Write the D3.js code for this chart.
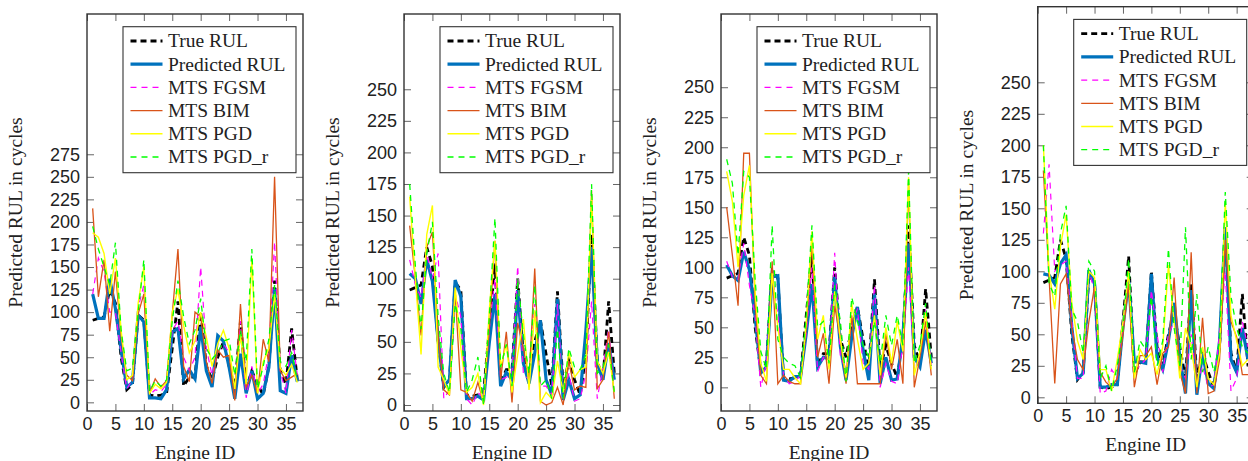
<!DOCTYPE html>
<html>
<head>
<meta charset="utf-8">
<script src="https://cdn.jsdelivr.net/npm/d3@7/dist/d3.min.js"></script>
<style>
  body { margin: 0; background: #fff; }
  svg { display: block; font-family: "Liberation Serif", "Times New Roman", serif; }
</style>
</head>
<body>
<svg width="1248" height="461"></svg>
<script>
// ---- data ----
var engineIds = [1,2,3,4,5,6,7,8,9,10,11,12,13,14,15,16,17,18,19,20,21,22,23,24,25,26,27,28,29,30,31,32,33,34,35,36,37];
var xTicks = [0, 5, 10, 15, 20, 25, 30, 35];
var yTicksA = [0, 25, 50, 75, 100, 125, 150, 175, 200, 225, 250, 275];
var yTicksB = [0, 25, 50, 75, 100, 125, 150, 175, 200, 225, 250];
var seriesNames = ["True RUL", "Predicted RUL", "MTS FGSM", "MTS BIM", "MTS PGD", "MTS PGD_r"];

var trueRul = [91, 93, 95, 125, 110, 50, 14, 20, 97, 91, 8, 7, 8, 10, 60, 112, 18, 28, 28, 100,
               40, 25, 50, 67, 40, 15, 90, 15, 35, 20, 8, 40, 135, 35, 20, 82, 25];

// panel 1
var pred1 = [120, 93, 93, 137, 104, 58, 17, 22, 97, 89, 5, 5, 4, 14, 78, 82, 26, 36, 26, 84,
             35, 17, 74, 68, 39, 4, 54, 10, 35, 4, 10, 39, 126, 13, 10, 52, 23];
var fgsm1 = [120, 160, 145, 100, 100, 55, 15, 25, 105, 130, 8, 14, 12, 20, 80, 90, 50, 35, 50, 150,
             60, 30, 55, 65, 55, 15, 90, 5, 40, 10, 20, 55, 178, 35, 10, 80, 30];
var bim1 = [215, 117, 158, 79, 145, 73, 30, 24, 98, 120, 10, 26, 17, 24, 98, 170, 40, 23, 100, 95,
            45, 21, 58, 50, 52, 2, 109, 17, 30, 10, 70, 45, 250, 35, 24, 28, 32];
var pgd1 = [188, 183, 165, 120, 160, 80, 25, 30, 110, 150, 10, 20, 15, 22, 100, 125, 85, 55, 68, 100,
            72, 40, 65, 80, 60, 15, 75, 20, 160, 10, 45, 60, 120, 38, 30, 42, 22];
var pgdr1 = [195, 170, 150, 130, 177, 80, 35, 38, 100, 158, 12, 24, 18, 25, 90, 135, 95, 65, 80, 115,
             60, 48, 55, 68, 70, 30, 80, 45, 170, 15, 40, 70, 130, 45, 40, 55, 25];

// panel 2
var pred2 = [104, 100, 80, 115, 98, 51, 15, 20, 99, 86, 5, 5, 7, 4, 49, 88, 15, 26, 20, 91,
             33, 17, 41, 67, 20, 8, 84, 4, 20, 5, 8, 59, 125, 33, 20, 49, 20];
var fgsm2 = [115, 95, 85, 120, 100, 120, 5, 12, 88, 70, 5, 0, 10, 5, 60, 100, 20, 22, 25, 110,
             25, 20, 80, 15, 15, 8, 80, 5, 25, 3, 5, 25, 82, 5, 30, 60, 10];
var bim2 = [142, 100, 55, 125, 137, 55, 12, 8, 90, 12, 10, 3, 18, 2, 60, 130, 20, 58, 2, 65,
            45, 20, 108, 3, 0, 2, 14, 0, 35, 12, 15, 14, 170, 13, 20, 58, 5];
var pgd2 = [165, 100, 40, 135, 158, 30, 20, 8, 93, 45, 10, 14, 25, 0, 75, 130, 30, 48, 10, 40,
            68, 12, 75, 2, 10, 5, 35, 10, 42, 22, 28, 30, 165, 35, 25, 42, 10];
var pgdr2 = [175, 110, 60, 120, 145, 70, 25, 10, 80, 60, 10, 20, 38, 0, 70, 148, 30, 48, 15, 100,
             55, 25, 95, 15, 20, 5, 60, 5, 45, 30, 28, 40, 175, 25, 30, 48, 10];

// panel 3
var pred3 = [102, 93, 89, 113, 98, 59, 12, 17, 92, 93, 6, 5, 9, 9, 45, 86, 17, 25, 24, 92,
             34, 6, 42, 67, 31, 6, 78, 3, 25, 6, 7, 42, 120, 25, 17, 48, 20];
var fgsm3 = [105, 92, 90, 120, 85, 60, 0, 20, 95, 60, 10, 3, 5, 10, 45, 100, 13, 25, 20, 112,
             25, 15, 55, 65, 20, 15, 85, 0, 20, 5, 3, 35, 100, 15, 25, 65, 18];
var bim3 = [150, 110, 68, 195, 195, 70, 10, 3, 105, 3, 10, 5, 3, 3, 50, 120, 25, 45, 3, 68,
            40, 3, 60, 3, 3, 3, 3, 3, 45, 15, 40, 3, 170, 0, 25, 55, 10];
var pgd3 = [180, 155, 100, 160, 185, 80, 20, 5, 95, 50, 15, 15, 8, 3, 55, 130, 40, 60, 15, 80,
            40, 8, 70, 40, 15, 20, 60, 10, 50, 20, 55, 30, 175, 10, 30, 62, 15];
var pgdr3 = [190, 170, 110, 180, 175, 90, 30, 15, 135, 40, 25, 20, 18, 8, 60, 135, 50, 55, 20, 85,
             55, 5, 75, 55, 35, 25, 55, 20, 60, 35, 60, 35, 180, 20, 35, 70, 18];

// panel 4
var pred4 = [98, 97, 90, 106, 113, 56, 15, 19, 101, 90, 8, 8, 10, 10, 56, 93, 28, 28, 27, 98,
             32, 22, 45, 75, 32, 3, 85, 2, 35, 11, 7, 45, 135, 30, 20, 55, 30];
var fgsm4 = [130, 185, 100, 105, 108, 60, 15, 15, 100, 85, 3, 5, 22, 15, 55, 90, 20, 25, 30, 85,
             50, 20, 50, 60, 25, 15, 50, 10, 25, 8, 10, 50, 100, 5, 15, 60, 40];
var bim4 = [180, 95, 11, 90, 98, 55, 30, 22, 60, 88, 20, 12, 8, 15, 50, 90, 8, 33, 33, 40,
            10, 35, 40, 95, 20, 3, 115, 3, 63, 3, 5, 30, 125, 60, 48, 18, 18];
var pgd4 = [200, 100, 70, 120, 145, 75, 45, 30, 100, 95, 22, 22, 5, 30, 60, 100, 15, 38, 30, 35,
            18, 40, 105, 60, 15, 55, 40, 8, 40, 15, 10, 35, 155, 65, 45, 25, 30];
var pgdr4 = [200, 90, 80, 130, 152, 70, 60, 35, 108, 100, 15, 25, 5, 25, 55, 110, 20, 45, 38, 80,
             25, 45, 118, 55, 25, 135, 30, 82, 20, 40, 20, 45, 163, 80, 55, 40, 35];

// ---- layout / style ----
var styles = [
    {color: "#000000", width: 2.8, dash: "6,4"},
    {color: "#0072BD", width: 3.2, dash: null},
    {color: "#FF00FF", width: 1.2, dash: "6,5"},
    {color: "#D95319", width: 1.3, dash: null},
    {color: "#FFFF00", width: 1.4, dash: null},
    {color: "#00FF00", width: 1.3, dash: "6,5"}
];

var panels = [
    {left: 87,    top: 14,  bottom: 411,   yDom: [-9.6, 430.5], yTicks: yTicksA, series: [trueRul, pred1, fgsm1, bim1, pgd1, pgdr1]},
    {left: 404,   top: 14,  bottom: 411,   yDom: [-4.75, 309.6], yTicks: yTicksB, series: [trueRul, pred2, fgsm2, bim2, pgd2, pgdr2]},
    {left: 721,   top: 14,  bottom: 411,   yDom: [-19.7, 311],  yTicks: yTicksB, series: [trueRul, pred3, fgsm3, bim3, pgd3, pgdr3]},
    {left: 1037.7, top: 6.7, bottom: 403.3, yDom: [-4.76, 310], yTicks: yTicksB, series: [trueRul, pred4, fgsm4, bim4, pgd4, pgdr4]}
];

var plotW = 216;
var svg = d3.select("svg");

panels.forEach(function(p, pi) {
    var h = p.bottom - p.top;
    var x = d3.scaleLinear().domain([0, 38]).range([0, plotW]);
    var y = d3.scaleLinear().domain(p.yDom).range([h, 0]);

    var g = svg.append("g").attr("transform", "translate(" + p.left + "," + p.top + ")");

    g.append("defs").append("clipPath").attr("id", "clip" + pi)
        .append("rect").attr("width", plotW).attr("height", h);

    // axes: ticks point inward, mirrored on top/right
    var tickCol = "#666";
    var yAx = g.append("g").call(d3.axisLeft(y).tickValues(p.yTicks).tickSize(-7).tickPadding(7));
    var yAx2 = g.append("g").attr("transform", "translate(" + plotW + ",0)")
        .call(d3.axisRight(y).tickValues(p.yTicks).tickSize(-7).tickFormat(""));
    var xAx = g.append("g").attr("transform", "translate(0," + h + ")")
        .call(d3.axisBottom(x).tickValues(xTicks).tickSize(-7).tickPadding(6));
    var xAx2 = g.append("g")
        .call(d3.axisTop(x).tickValues(xTicks).tickSize(-7).tickFormat(""));

    [yAx, yAx2, xAx, xAx2].forEach(function(a) {
        a.select(".domain").remove();
        a.selectAll(".tick line").attr("stroke", tickCol).attr("stroke-width", 1);
        a.selectAll(".tick text").attr("font-family", null).attr("font-size", 18).attr("fill", "#222");
    });

    // lines
    var lines = g.append("g").attr("clip-path", "url(#clip" + pi + ")");
    p.series.forEach(function(vals, si) {
        var st = styles[si];
        var line = d3.line()
            .x(function(d, i) { return x(engineIds[i]); })
            .y(function(d) { return y(d); });
        lines.append("path")
            .datum(vals)
            .attr("fill", "none")
            .attr("stroke", st.color)
            .attr("stroke-width", st.width)
            .attr("stroke-dasharray", st.dash)
            .attr("stroke-linejoin", "miter")
            .attr("d", line);
    });

    // frame
    g.append("rect")
        .attr("width", plotW).attr("height", h)
        .attr("fill", "none").attr("stroke", "#333").attr("stroke-width", 1.4);

    // legend
    var lw = 173, lh = 146;
    var lx = plotW - 7 - lw, ly = 12.7;
    var leg = g.append("g").attr("transform", "translate(" + lx + "," + ly + ")");
    leg.append("rect").attr("width", lw).attr("height", lh)
        .attr("fill", "#fff").attr("stroke", "#333").attr("stroke-width", 1.1);
    seriesNames.forEach(function(name, si) {
        var st = styles[si];
        var cy = 14.3 + si * 23.2;
        leg.append("line")
            .attr("x1", 7.5).attr("x2", 39.5).attr("y1", cy).attr("y2", cy)
            .attr("stroke", st.color).attr("stroke-width", st.width)
            .attr("stroke-dasharray", st.dash);
        leg.append("text")
            .attr("x", 45).attr("y", cy + 6.5)
            .attr("font-size", 19.5).attr("fill", "#222")
            .text(name);
    });

    // axis labels
    g.append("text")
        .attr("x", plotW / 2).attr("y", h + 48)
        .attr("text-anchor", "middle").attr("font-size", 19.5).attr("fill", "#222")
        .text("Engine ID");
    g.append("text")
        .attr("transform", "translate(-65," + (h / 2) + ") rotate(-90)")
        .attr("text-anchor", "middle").attr("font-size", 19.5).attr("fill", "#222")
        .text("Predicted RUL in cycles");
});
</script>
</body>
</html>
